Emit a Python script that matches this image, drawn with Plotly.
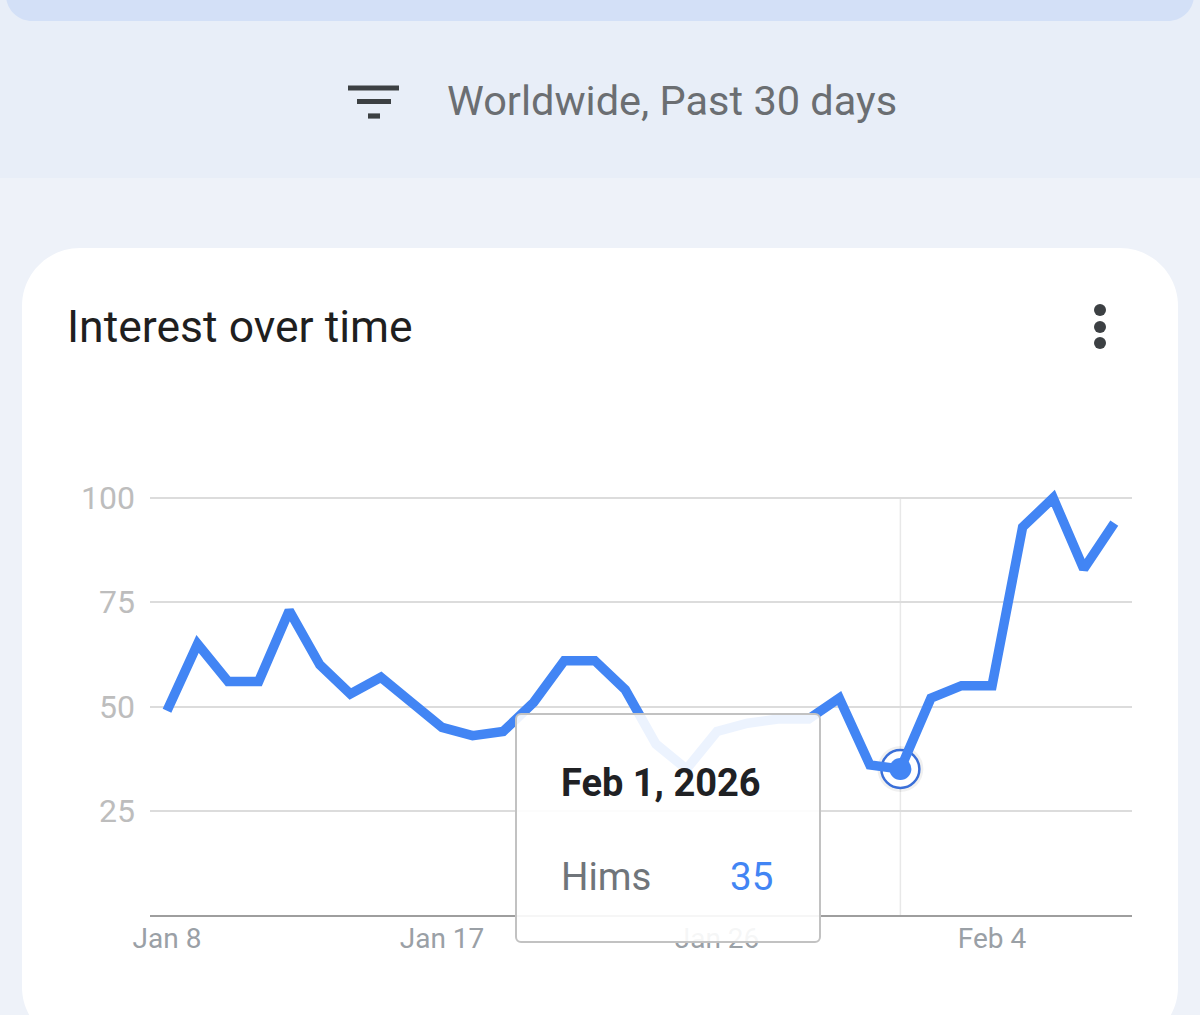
import plotly.graph_objects as go
import pandas as pd

# ---------------- data ----------------
start_date = "2026-01-08"
values = [49, 65, 56, 56, 73, 60, 53, 57, 51, 45, 43, 44, 51, 61, 61, 54,
          41, 35, 44, 46, 47, 47, 52, 36, 35, 52, 55, 55, 93, 100, 83, 94]
dates = pd.date_range(start_date, periods=len(values), freq="D")
tick_dates = ["2026-01-08", "2026-01-17", "2026-01-26", "2026-02-04"]
tick_labels = ["Jan 8", "Jan 17", "Jan 26", "Feb 4"]
y_ticks = [25, 50, 75, 100]
series_name = "Hims"
highlight_date = "2026-02-01"
header_text = "Worldwide, Past 30 days"
title_text = "Interest over time"

hl_idx = list(dates.strftime("%Y-%m-%d")).index(highlight_date)
hl_value = values[hl_idx]
hl_label = dates[hl_idx].strftime("%b %-d, %Y")

# ---------------- helpers (pixel -> paper) ----------------
W, H = 1200, 1015
def px(x): return x / W
def py(y): return 1 - y / H

def rrect(x0, y0, x1, y1, r):
    k = 0.5523 * r
    pts = [
        f"M{px(x0 + r)},{py(y0)}",
        f"L{px(x1 - r)},{py(y0)}",
        f"C{px(x1 - r + k)},{py(y0)} {px(x1)},{py(y0 + r - k)} {px(x1)},{py(y0 + r)}",
        f"L{px(x1)},{py(y1 - r)}",
        f"C{px(x1)},{py(y1 - r + k)} {px(x1 - r + k)},{py(y1)} {px(x1 - r)},{py(y1)}",
        f"L{px(x0 + r)},{py(y1)}",
        f"C{px(x0 + r - k)},{py(y1)} {px(x0)},{py(y1 - r + k)} {px(x0)},{py(y1 - r)}",
        f"L{px(x0)},{py(y0 + r)}",
        f"C{px(x0)},{py(y0 + r - k)} {px(x0 + r - k)},{py(y0)} {px(x0 + r)},{py(y0)}",
        "Z",
    ]
    return " ".join(pts)

BLUE = "#4285F4"
FONT = "Roboto"

fig = go.Figure()

# highlighted point: shadow + ring (beneath the line)
fig.add_trace(go.Scatter(
    x=[dates[hl_idx]], y=[hl_value], mode="markers", showlegend=False, hoverinfo="skip",
    marker=dict(size=46, color="rgba(0,0,0,0.06)", line=dict(width=0)),
))
fig.add_trace(go.Scatter(
    x=[dates[hl_idx]], y=[hl_value], mode="markers", showlegend=False, hoverinfo="skip",
    marker=dict(size=38, color="white", line=dict(color="#3a6fd8", width=2.5)),
))
# main line
fig.add_trace(go.Scatter(
    x=dates, y=values, mode="lines", name=series_name,
    line=dict(color=BLUE, width=9.5), hoverinfo="skip", showlegend=False,
))
# inner dot
fig.add_trace(go.Scatter(
    x=[dates[hl_idx]], y=[hl_value], mode="markers", showlegend=False, hoverinfo="skip",
    marker=dict(size=22, color=BLUE, line=dict(width=0)),
))

shapes = []
# background bands
shapes.append(dict(type="rect", xref="paper", yref="paper", x0=0, x1=1, y0=py(178), y1=1,
                   fillcolor="#E8EEF8", line=dict(width=0), layer="below"))
shapes.append(dict(type="path", xref="paper", yref="paper", path=rrect(6, -60, 1194, 21, 26),
                   fillcolor="#D3E0F7", line=dict(width=0), layer="below"))
# white card
shapes.append(dict(type="path", xref="paper", yref="paper", path=rrect(22, 248, 1178, 1045, 58),
                   fillcolor="white", line=dict(width=0), layer="below"))
# filter icon
for (x0, x1, yc) in [(348, 399, 88), (357, 391, 101.5), (368, 380, 116)]:
    shapes.append(dict(type="rect", xref="paper", yref="paper", x0=px(x0), x1=px(x1),
                       y0=py(yc + 2.6), y1=py(yc - 2.6), fillcolor="#3c4043",
                       line=dict(width=0), layer="above"))
# three dots menu
for yc in [310, 327, 343]:
    shapes.append(dict(type="circle", xref="paper", yref="paper", x0=px(1094), x1=px(1106),
                       y0=py(yc + 6), y1=py(yc - 6), fillcolor="#3c4043",
                       line=dict(width=0), layer="above"))
# hover vertical line
shapes.append(dict(type="line", xref="x", yref="y", x0=dates[hl_idx], x1=dates[hl_idx],
                   y0=0, y1=100, line=dict(color="#e8e8e8", width=1.5), layer="below"))
# tooltip box
shapes.append(dict(type="path", xref="paper", yref="paper", path=rrect(516, 714, 820, 942, 5),
                   fillcolor="rgba(255,255,255,0.9)", line=dict(color="#c2c2c2", width=2),
                   layer="above"))

annotations = [
    dict(text=header_text, xref="paper", yref="paper", x=px(445), y=py(101),
         xanchor="left", yanchor="middle", showarrow=False,
         font=dict(family=FONT, size=41.5, color="#6b6e72")),
    dict(text=title_text, xref="paper", yref="paper", x=px(65), y=py(327),
         xanchor="left", yanchor="middle", showarrow=False,
         font=dict(family=FONT, size=44.5, color="#1f1f1f")),
    dict(text=f"<b>{hl_label}</b>", xref="paper", yref="paper", x=px(559), y=py(783),
         xanchor="left", yanchor="middle", showarrow=False,
         font=dict(family=FONT, size=38, color="#202124")),
    dict(text=series_name, xref="paper", yref="paper", x=px(559), y=py(876),
         xanchor="left", yanchor="middle", showarrow=False,
         font=dict(family=FONT, size=38.5, color="#70757a")),
    dict(text=str(hl_value), xref="paper", yref="paper", x=px(775), y=py(876),
         xanchor="right", yanchor="middle", showarrow=False,
         font=dict(family=FONT, size=38.5, color=BLUE)),
]

y_px_per_unit = 417 / 100
y_top_px = 915 - 104 * y_px_per_unit

fig.update_layout(
    width=W, height=H, autosize=False,
    margin=dict(l=0, r=0, t=0, b=0, pad=0),
    paper_bgcolor="#EEF2F9", plot_bgcolor="rgba(0,0,0,0)",
    shapes=shapes, annotations=annotations, showlegend=False,
    xaxis=dict(
        type="date", domain=[px(150), px(1132)], automargin=False,
        range=["2026-01-07 10:39", "2026-02-08 13:55"],
        tickvals=tick_dates, ticktext=tick_labels,
        showgrid=False, zeroline=False, showline=True, linecolor="#9e9e9e", linewidth=2,
        ticks="", ticklabelstandoff=-3,
        tickfont=dict(family=FONT, size=28, color="#9aa0a6"),
    ),
    yaxis=dict(
        domain=[py(915), py(y_top_px)], range=[0, 104], automargin=False,
        tickvals=y_ticks, showgrid=True, gridcolor="#dcdcdc", gridwidth=2,
        zeroline=False, showline=False, ticks="", ticklabelstandoff=14,
        tickfont=dict(family=FONT, size=32, color="#bdbdbd"),
    ),
)

fig.write_html("out.html")
